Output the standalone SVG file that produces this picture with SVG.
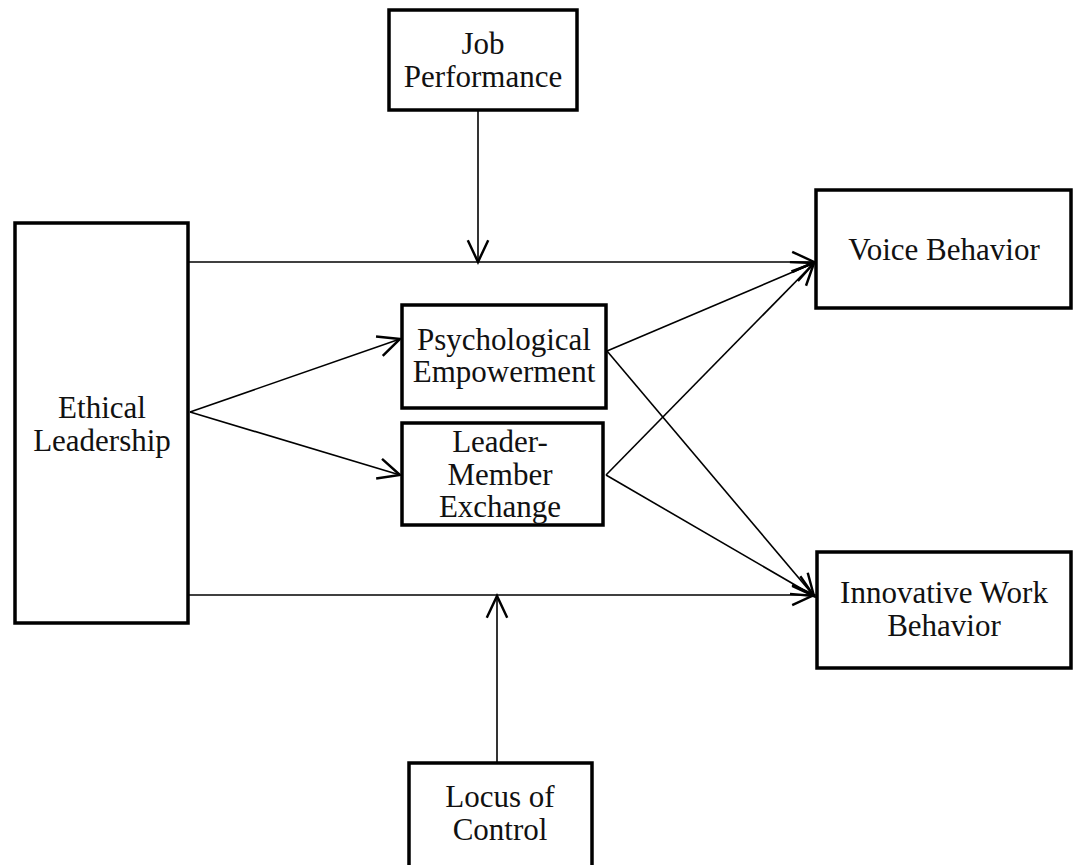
<svg xmlns="http://www.w3.org/2000/svg" width="1075" height="865" viewBox="0 0 1075 865">
<style>
.box{fill:#fff;stroke:#000;stroke-width:3.5}
.lbl{font-family:"Liberation Serif","Times New Roman",serif;font-size:31px;fill:#111;text-anchor:middle}
.con{stroke:#000;stroke-width:1.6;fill:none}
</style>
<defs>
<marker id="arr" markerUnits="userSpaceOnUse" markerWidth="30" markerHeight="30" viewBox="-20 -10 22 20" refX="0" refY="0" orient="auto">
<path d="M-16,-7.5 L0,0 L-16,7.5" fill="none" stroke="#000" stroke-width="1.8"/>
</marker>
</defs>
<rect width="1075" height="865" fill="#fff"/>
<g id="connectors">
<line class="con" x1="188" y1="262" x2="814" y2="262" marker-end="url(#arr)"/>
<line class="con" x1="478" y1="110" x2="478" y2="262" marker-end="url(#arr)"/>
<line class="con" x1="188" y1="595" x2="814" y2="595" marker-end="url(#arr)"/>
<line class="con" x1="497" y1="763" x2="497" y2="596" marker-end="url(#arr)"/>
<line class="con" x1="190" y1="412" x2="400" y2="339" marker-end="url(#arr)"/>
<line class="con" x1="190" y1="412" x2="400" y2="475" marker-end="url(#arr)"/>
<line class="con" x1="607" y1="351" x2="814" y2="263" marker-end="url(#arr)"/>
<line class="con" x1="607" y1="351" x2="814" y2="596" marker-end="url(#arr)"/>
<line class="con" x1="606" y1="475" x2="814" y2="263" marker-end="url(#arr)"/>
<line class="con" x1="606" y1="475" x2="814" y2="596" marker-end="url(#arr)"/>
</g>
<g id="job">
<rect class="box" x="389" y="10" width="188" height="100"/>
<text class="lbl" x="483" y="54">Job</text>
<text class="lbl" x="483" y="87">Performance</text>
</g>
<g id="ethical">
<rect class="box" x="15" y="223" width="173" height="400"/>
<text class="lbl" x="102" y="418">Ethical</text>
<text class="lbl" x="102" y="451">Leadership</text>
</g>
<g id="psych">
<rect class="box" x="402" y="305" width="204" height="103"/>
<text class="lbl" x="504" y="350">Psychological</text>
<text class="lbl" x="504" y="382">Empowerment</text>
</g>
<g id="lmx">
<rect class="box" x="402" y="423" width="201" height="102"/>
<text class="lbl" x="500" y="452">Leader-</text>
<text class="lbl" x="500" y="485">Member</text>
<text class="lbl" x="500" y="517">Exchange</text>
</g>
<g id="voice">
<rect class="box" x="816" y="190" width="255" height="118"/>
<text class="lbl" x="944" y="260">Voice Behavior</text>
</g>
<g id="innovative">
<rect class="box" x="817" y="552" width="254" height="116"/>
<text class="lbl" x="944" y="603">Innovative Work</text>
<text class="lbl" x="944" y="636">Behavior</text>
</g>
<g id="locus">
<rect class="box" x="409" y="763" width="183" height="110"/>
<text class="lbl" x="500" y="807">Locus of</text>
<text class="lbl" x="500" y="840">Control</text>
</g>
</svg>
